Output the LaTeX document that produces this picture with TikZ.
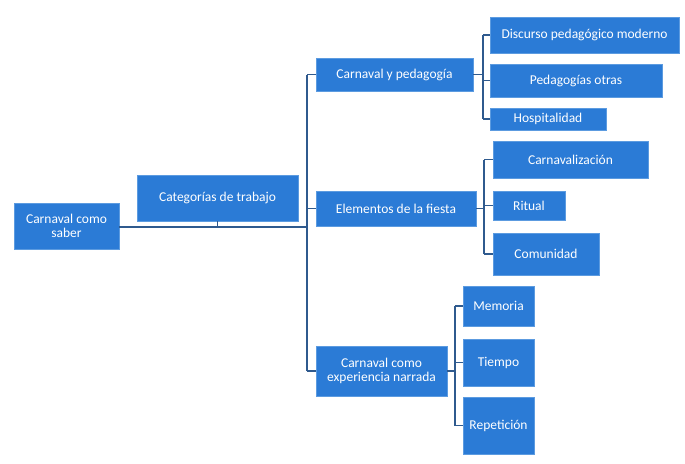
\documentclass[tikz,border=0pt]{standalone}
\usepackage{fontspec}
\setmainfont{Carlito}
\definecolor{boxblue}{HTML}{2B7BD6}
\definecolor{boxedge}{HTML}{5C9BE0}
\definecolor{linkblue}{HTML}{2F5A8E}
\begin{document}
\begin{tikzpicture}[x=1pt,y=-1pt,
  box/.style={rectangle,fill=boxblue,draw=boxedge,line width=0.5pt,text=white,
    font=\fontsize{13.5}{14}\selectfont,align=center,inner sep=0pt},
  link/.style={draw=linkblue,line width=1.3pt},
  mainlink/.style={draw=linkblue,line width=2pt}]
\useasboundingbox (0,0) rectangle (685,463);
\fill[white] (0,0) rectangle (685,463);
% nodes
\node[box,minimum width=105pt,minimum height=46pt] (saber) at (66.5,226) {Carnaval como\\saber};
\node[box,minimum width=161pt,minimum height=46pt] (cat) at (217.5,198) {Categorías de trabajo};
\node[box,minimum width=157pt,minimum height=33pt] (ped) at (394.5,74.5) {Carnaval y pedagogía};
\node[box,minimum width=189pt,minimum height=36pt] (disc) at (584.5,35) {Discurso pedagógico moderno};
\node[box,minimum width=172pt,minimum height=33pt] (otras) at (576,80.5) {Pedagogías otras};
\node[box,minimum width=116pt,minimum height=22pt] (hosp) at (548,119) {Hospitalidad};
\node[box,minimum width=160pt,minimum height=35pt] (elem) at (396,208.5) {Elementos de la fiesta};
\node[box,minimum width=155pt,minimum height=37pt] (carn) at (570.5,159.5) {Carnavalización};
\node[box,minimum width=72pt,minimum height=29pt] (rit) at (529,205.5) {Ritual};
\node[box,minimum width=106pt,minimum height=42pt] (com) at (546,254) {Comunidad};
\node[box,minimum width=131pt,minimum height=50pt] (narr) at (381.5,371) {Carnaval como\\experiencia narrada};
\node[box,minimum width=71pt,minimum height=40pt] (mem) at (498.5,306) {Memoria};
\node[box,minimum width=71pt,minimum height=47pt] (tiem) at (498.5,362.5) {Tiempo};
\node[box,minimum width=71pt,minimum height=57pt] (rep) at (498.5,425.5) {Repetición};
% spine coordinates
\coordinate (mainx) at (307,227);
\coordinate (pedx) at (483,0);
\coordinate (elemx) at (484,0);
\coordinate (narrx) at (455,0);
% main connectors
\draw[mainlink] (saber.east |- mainx) -- (mainx);
\draw[link] (cat.south) -- (cat.south |- mainx);
\draw[link] (ped.west -| mainx) -- (narr.west -| mainx);
\draw[link] (ped.west -| mainx) -- (ped.west);
\draw[link] (elem.west -| mainx) -- (elem.west);
\draw[link] (narr.west -| mainx) -- (narr.west);
% pedagogia bracket
\draw[link] (ped.east) -- (ped.east -| pedx);
\draw[link] (disc.west -| pedx) -- (hosp.west -| pedx);
\draw[link] (disc.west -| pedx) -- (disc.west);
\draw[link] (otras.west -| pedx) -- (otras.west);
\draw[link] (hosp.west -| pedx) -- (hosp.west);
% fiesta bracket
\draw[link] (elem.east) -- (elem.east -| elemx);
\draw[link] (carn.west -| elemx) -- (com.west -| elemx);
\draw[link] (carn.west -| elemx) -- (carn.west);
\draw[link] (rit.west -| elemx) -- (rit.west);
\draw[link] (com.west -| elemx) -- (com.west);
% narrada bracket
\draw[link] (narr.east) -- (narr.east -| narrx);
\draw[link] (mem.west -| narrx) -- (rep.west -| narrx);
\draw[link] (mem.west -| narrx) -- (mem.west);
\draw[link] (tiem.west -| narrx) -- (tiem.west);
\draw[link] (rep.west -| narrx) -- (rep.west);
\end{tikzpicture}
\end{document}
